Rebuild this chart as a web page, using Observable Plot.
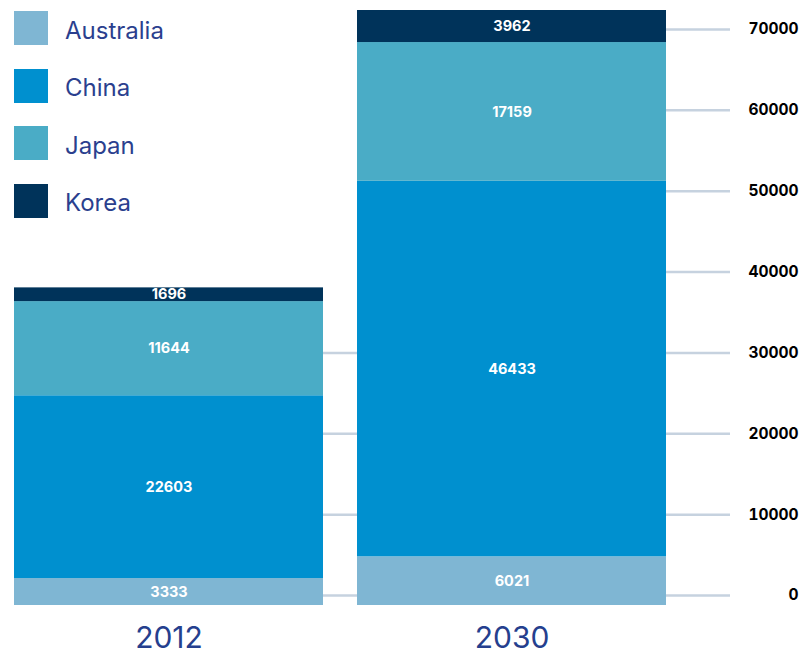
<!DOCTYPE html>
<html>
<head>
<meta charset="utf-8">
<script src="https://cdn.jsdelivr.net/npm/d3@7"></script>
<script src="https://cdn.jsdelivr.net/npm/@observablehq/plot@0.6"></script>
<style>
  html, body { margin: 0; padding: 0; background: #fff; }
  #wrap { position: relative; width: 811px; height: 655px; font-family: "Inter", "Lato", sans-serif; }
  #legend { position: absolute; left: 14px; top: 11px; }
  .item { display: flex; align-items: center; height: 34px; margin-bottom: 23.5px; }
  .sw { width: 34px; height: 34px; margin-right: 17px; flex: none; }
  .lab { font-size: 24px; color: #2b3f8e; position: relative; top: 2px; }
</style>
</head>
<body>
<div id="wrap"><div id="chart"></div><div id="legend"></div></div>
<script>
const years = ["2012", "2030"];
const countries = ["Australia", "China", "Japan", "Korea"];
const values2012 = [3333, 22603, 11644, 1696];
const values2030 = [6021, 46433, 17159, 3962];
const colors = ["#7fb6d3", "#0090cf", "#4aacc6", "#00335a"];
const yTicks = [0, 10000, 20000, 30000, 40000, 50000, 60000, 70000];

const data = [];
countries.forEach((c, i) => data.push({year: years[0], country: c, value: values2012[i]}));
countries.forEach((c, i) => data.push({year: years[1], country: c, value: values2030[i]}));
const totals = {[years[0]]: d3.sum(values2012), [years[1]]: d3.sum(values2030)};
const yMax = d3.max(Object.values(totals));

// grid segments drawn to the right of each bar, only where the bar reaches
const grid2012 = yTicks.filter(t => t <= totals[years[0]]).map(t => ({year: years[0], value: t}));
const grid2030 = yTicks.filter(t => t <= totals[years[1]]).map(t => ({year: years[1], value: t}));

const gridStyle = {stroke: "#c6d2df", strokeWidth: 2.5, dy: -10};

const chart = Plot.plot({
  width: 811,
  height: 655,
  marginLeft: 14,
  marginRight: 145,
  marginTop: 10,
  marginBottom: 50,
  style: {fontFamily: "Inter, Lato, sans-serif"},
  x: {domain: years, paddingInner: 34 / 343, paddingOuter: 0, label: null},
  y: {domain: [0, yMax], label: null},
  color: {domain: countries, range: colors},
  marks: [
    Plot.tickY(grid2012, {x: "year", y: "value", ...gridStyle, insetLeft: 309, insetRight: -34}),
    Plot.tickY(grid2030, {x: "year", y: "value", ...gridStyle, insetLeft: 309, insetRight: -64}),
    Plot.barY(data, {x: "year", y: "value", fill: "country", z: "country", order: countries}),
    Plot.text(data, Plot.stackY({x: "year", y: "value", z: "country", order: countries, text: d => String(d.value), fill: "white", fontWeight: "bold", fontSize: 14.5})),
    Plot.axisY(yTicks, {anchor: "right", tickSize: 0, tickPadding: 132, textAnchor: "end", dy: -10, tickFormat: d => String(d), fill: "#000", fontWeight: "bold", fontSize: 15.5, label: null}),
    Plot.axisX({tickSize: 0, tickPadding: 21, fontSize: 30, fill: "#253f8e", label: null})
  ]
});
document.getElementById("chart").appendChild(chart);

const legend = document.getElementById("legend");
countries.forEach((c, i) => {
  const it = document.createElement("div");
  it.className = "item";
  it.innerHTML = `<div class="sw" style="background:${colors[i]}"></div><div class="lab">${c}</div>`;
  legend.appendChild(it);
});
</script>
</body>
</html>
